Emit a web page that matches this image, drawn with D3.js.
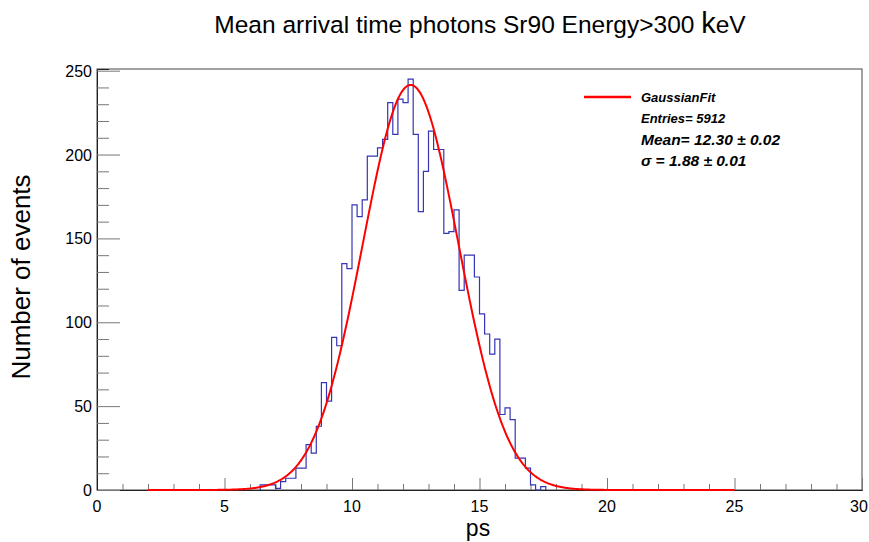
<!DOCTYPE html>
<html>
<head>
<meta charset="utf-8">
<script src="https://cdn.jsdelivr.net/npm/d3@7"></script>
<style>
    body { margin: 0; background: #fff; }
    svg { display: block; font-family: "Liberation Sans", Arial, sans-serif; }
</style>
</head>
<body>
<svg id="chart"></svg>
<script>
// Histogram: bin low edges (ps), bin width 0.2 ps, counts
const binLow = [6.4, 6.6, 6.8, 7.0, 7.2, 7.4, 7.6, 7.8, 8.0, 8.2, 8.4, 8.6, 8.8, 9.0,
    9.2, 9.4, 9.6, 9.8, 10.0, 10.2, 10.4, 10.6, 10.8, 11.0, 11.2, 11.4, 11.6, 11.8,
    12.0, 12.2, 12.4, 12.6, 12.8, 13.0, 13.2, 13.4, 13.6, 13.8, 14.0, 14.2, 14.4, 14.6,
    14.8, 15.0, 15.2, 15.4, 15.6, 15.8, 16.0, 16.2, 16.4, 16.6, 16.8, 17.0, 17.2, 17.4];
const counts = [3, 3, 3, 1, 5, 7, 7, 13, 13, 27, 22, 38, 64, 53,
    91, 86, 135, 132, 170, 163, 173, 199, 199, 204, 209, 231, 212, 233,
    231, 245, 212, 166, 190, 214, 203, 203, 153, 154, 167, 119, 140, 140,
    127, 105, 93, 81, 90, 45, 49, 42, 19, 19, 13, 3, 0, 2];
const binWidth = 0.2;

// Gaussian fit (TF1) parameters and range
const fitConstant = 241.5;
const fitMean = 12.30;
const fitSigma = 1.88;
const fitRange = [2, 25];

const xMajorTicks = [0, 5, 10, 15, 20, 25, 30];
const yMajorTicks = [0, 50, 100, 150, 200, 250];

const legendLines = ['GaussianFit', 'Entries= 5912', 'Mean= 12.30 \u00b1 0.02', '\u03c3 = 1.88 \u00b1 0.01'];

const width = 869, height = 542;
const frame = {left: 97, right: 862, top: 69, bottom: 490};

const svg = d3.select('#chart').attr('width', width).attr('height', height);

const x = d3.scaleLinear().domain([0, 30]).range([frame.left, frame.right]);
const y = d3.scaleLinear().domain([0, 251]).range([frame.bottom, frame.top]);

// Frame
svg.append('rect')
    .attr('x', frame.left).attr('y', frame.top)
    .attr('width', frame.right - frame.left).attr('height', frame.bottom - frame.top)
    .attr('fill', 'none').attr('stroke', '#444').attr('stroke-width', 1);

// X axis (ticks point up into frame)
const xAxis = d3.axisTop(x)
    .tickValues(d3.range(0, 30.01, 1))
    .tickSize(6)
    .tickFormat('');
const gx = svg.append('g').attr('transform', `translate(0,${frame.bottom})`).call(xAxis);
gx.selectAll('.tick line').attr('stroke', '#777')
    .attr('y2', d => d % 5 === 0 ? -12 : -6);
gx.select('.domain').attr('stroke', '#222');
svg.append('g').selectAll('text')
    .data(xMajorTicks)
    .enter().append('text')
    .attr('x', d => Math.min(x(d), width - 10))
    .attr('y', frame.bottom + 22)
    .attr('text-anchor', 'middle')
    .attr('font-size', 16)
    .text(d => d);

// Y axis (ticks point right into frame)
const yAxis = d3.axisRight(y)
    .tickValues(d3.range(0, 251, 10))
    .tickSize(12)
    .tickFormat('');
const gy = svg.append('g').attr('transform', `translate(${frame.left},0)`).call(yAxis);
gy.selectAll('.tick line').attr('stroke', '#777')
    .attr('x2', d => d % 50 === 0 ? 23 : 12);
gy.select('.domain').attr('stroke', '#222');
svg.append('g').selectAll('text')
    .data(yMajorTicks)
    .enter().append('text')
    .attr('x', frame.left - 5)
    .attr('y', d => y(d) + 6)
    .attr('text-anchor', 'end')
    .attr('font-size', 16)
    .text(d => d);

// Histogram outline
const steps = [[binLow[0], 0]];
binLow.forEach((lo, i) => {
    steps.push([lo, counts[i]]);
    steps.push([lo + binWidth, counts[i]]);
});
steps.push([binLow[binLow.length - 1] + binWidth, 0]);
svg.append('path')
    .datum(steps)
    .attr('fill', 'none')
    .attr('stroke', '#3535b5')
    .attr('stroke-width', 1.2)
    .attr('d', d3.line().x(d => x(d[0])).y(d => y(d[1])));

// Fit curve
const fitPts = d3.range(fitRange[0], fitRange[1] + 0.001, 0.05).map(t =>
    [t, fitConstant * Math.exp(-0.5 * Math.pow((t - fitMean) / fitSigma, 2))]);
svg.append('path')
    .datum(fitPts)
    .attr('fill', 'none')
    .attr('stroke', '#ff0000')
    .attr('stroke-width', 2)
    .attr('d', d3.line().x(d => x(d[0])).y(d => y(d[1])));

// Legend
svg.append('line')
    .attr('x1', 584).attr('x2', 631).attr('y1', 97).attr('y2', 97)
    .attr('stroke', '#ff0000').attr('stroke-width', 2.5);
const legendSizes = [13, 13, 15.5, 15.5];
const legendY = [102, 123, 145, 166];
svg.append('g').selectAll('text')
    .data(legendLines)
    .enter().append('text')
    .attr('x', 641)
    .attr('y', (d, i) => legendY[i])
    .attr('font-size', (d, i) => legendSizes[i])
    .attr('font-weight', 'bold')
    .attr('font-style', 'italic')
    .text(d => d);

// Title
const title = svg.append('text')
    .attr('x', 480).attr('y', 33)
    .attr('text-anchor', 'middle')
    .attr('font-size', 24.5);
title.append('tspan').text('Mean arrival time photons Sr90 Energy>300 ');
title.append('tspan').attr('font-size', 29).text('k');
title.append('tspan').text('eV');

// Axis titles
svg.append('text')
    .attr('x', 478).attr('y', 536)
    .attr('text-anchor', 'middle')
    .attr('font-size', 23)
    .text('ps');
svg.append('text')
    .attr('transform', 'translate(30,277) rotate(-90)')
    .attr('text-anchor', 'middle')
    .attr('font-size', 26)
    .text('Number of events');
</script>
</body>
</html>
